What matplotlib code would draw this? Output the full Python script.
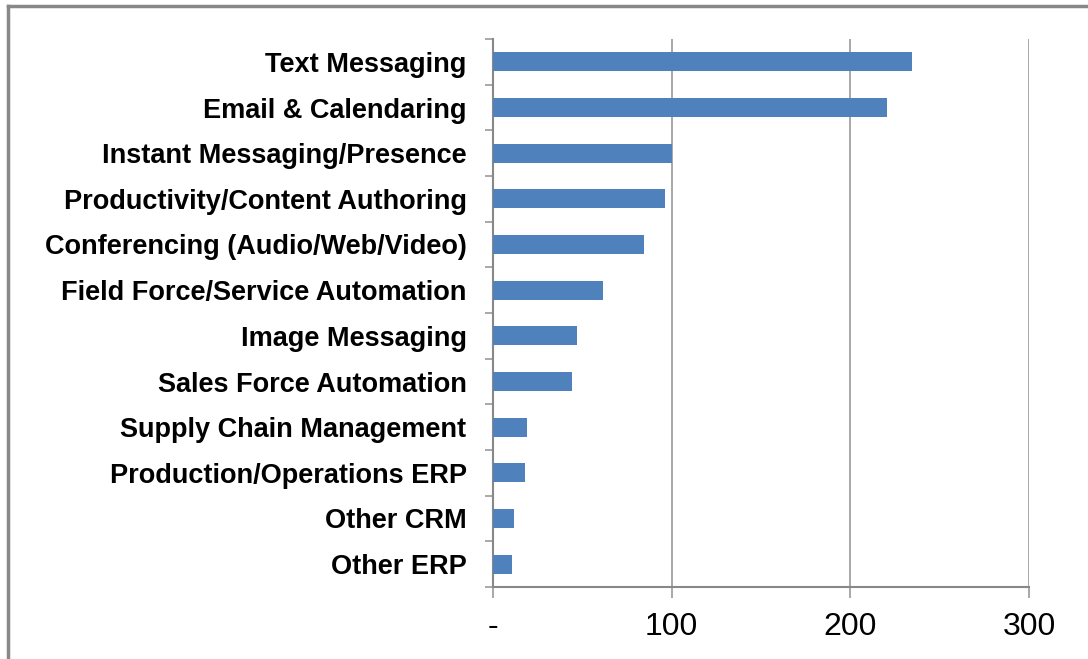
import matplotlib.pyplot as plt
from matplotlib.lines import Line2D

# categories top to bottom
categories = [
    "Text Messaging",
    "Email & Calendaring",
    "Instant Messaging/Presence",
    "Productivity/Content Authoring",
    "Conferencing (Audio/Web/Video)",
    "Field Force/Service Automation",
    "Image Messaging",
    "Sales Force Automation",
    "Supply Chain Management",
    "Production/Operations ERP",
    "Other CRM",
    "Other ERP",
]
values = [234.5, 220.5, 100.3, 96.4, 84.6, 61.5, 46.9, 44.4, 18.9, 17.7, 11.9, 10.4]
x_ticks = [0, 100, 200, 300]
x_tick_labels = ["-", "100", "200", "300"]

plt.rcParams['font.family'] = ['Liberation Sans', 'DejaVu Sans']

fig = plt.figure(figsize=(10.88, 6.59), dpi=100)
ax = fig.add_axes([493 / 1088, 1 - 587 / 659, (1029 - 493) / 1088, (587 - 39) / 659])

pos = list(range(len(categories)))
ax.barh(pos, values, height=0.41, color='#4F81BD', zorder=3)

ax.set_ylim(len(categories) - 0.5, -0.5)
ax.set_xlim(0, 300)

ax.set_yticks(pos)
ax.set_yticklabels(categories, fontsize=19.5, fontweight='bold')
ax.set_yticks([p - 0.5 for p in pos] + [len(pos) - 0.5], minor=True)
ax.tick_params(axis='y', which='major', length=0, pad=19)
ax.tick_params(axis='y', which='minor', length=6, color='#999999', width=1.2)

ax.set_xticks(x_ticks)
ax.set_xticklabels(x_tick_labels, fontsize=23)
ax.tick_params(axis='x', length=8, color='#999999', width=1.2, pad=10)

ax.grid(axis='x', color='#999999', linewidth=1.2, zorder=0)
for s in ['top', 'right']:
    ax.spines[s].set_visible(False)
for s in ['left', 'bottom']:
    ax.spines[s].set_color('#888888')
    ax.spines[s].set_linewidth(1.5)

# outer frame (top and left edges visible in the reference)
fig.add_artist(Line2D([8 / 1088, 8 / 1088], [0, 1 - 6 / 659], color='#888888', linewidth=2.5))
fig.add_artist(Line2D([8 / 1088, 1], [1 - 6 / 659, 1 - 6 / 659], color='#888888', linewidth=2.5))

fig.savefig('out.png', dpi=100)
